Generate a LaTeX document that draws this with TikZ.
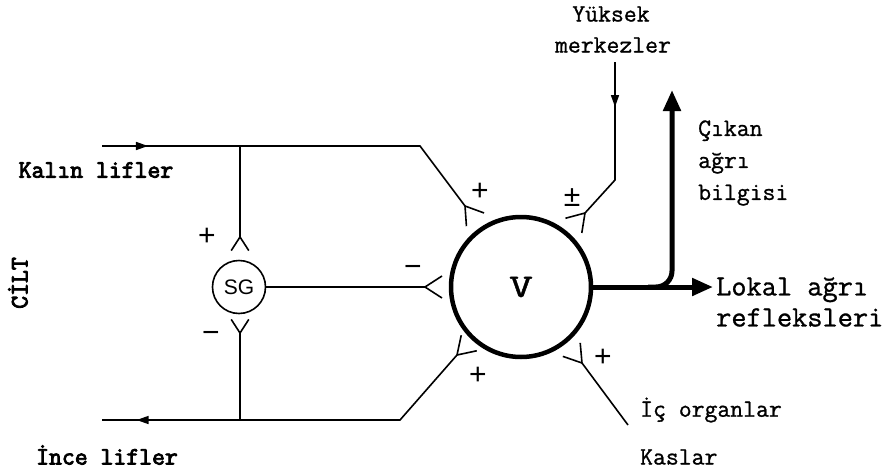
\documentclass[tikz,border=0pt]{standalone}
\usepackage{fontspec}
\newfontfamily\sgfont{Liberation Sans}
\newfontfamily\twfont{lmmono12-regular.otf}[FakeBold=1]
\newfontfamily\twbold{lmmono12-regular.otf}[FakeBold=3.5]
\usetikzlibrary{arrows.meta,positioning,decorations.markings}

\begin{document}
\begin{tikzpicture}[x=1pt,y=-1pt,
 lbl/.style={font=\twfont\fontsize{25}{32}\selectfont,inner sep=0pt},
 boldlbl/.style={font=\twbold\fontsize{25}{32}\selectfont,inner sep=0pt},
 sign/.style={font=\sgfont\fontsize{30}{30}\selectfont,inner sep=0pt},
 fibre/.style={line width=1.6pt},
 thickline/.style={line width=5pt,-{Triangle[length=21pt,width=17pt]}},
 fork/.pic={\draw[fibre] (17,-11) -- (0,0) -- (17,11);},
 midarrow/.style={postaction={decorate},decoration={markings,
   mark=at position #1 with {\arrow{Triangle[length=12pt,width=8pt]}}}}]
\useasboundingbox (0,0) rectangle (889,474);

% cells
\node[draw,circle,line width=4.5pt,minimum size=140pt,
  font=\twfont\fontsize{33}{33}\selectfont] (V) at (521,287) {\scalebox{1.4}[1]{V}};
\node[draw,circle,fibre,minimum size=53pt,
  font=\sgfont\fontsize{21}{21}\selectfont] (sg) at (239,287) {SG};

% fixed points
\coordinate (kin) at (102,146); \coordinate (kj) at (240,146);
\coordinate (kb) at (420,146); \coordinate (tl) at (465,206);
\coordinate (iin) at (102,420); \coordinate (ij) at (240,420);
\coordinate (ib) at (400,420); \coordinate (bl) at (457,355);
\coordinate (sgt) at (240,237); \coordinate (sgb) at (240,333);
\coordinate (sgr) at (425,287);
\coordinate (ytop) at (615,62); \coordinate (yb) at (615,180);
\coordinate (tr) at (585,213);
\coordinate (io) at (628,425); \coordinate (br) at (582,363);
\coordinate (split) at (648,287); \coordinate (up) at (672,90);
\coordinate (lok) at (713,287);

% fibres
\draw[fibre,midarrow=.117] (kin) -- (kb) -- (tl);
\draw[fibre,midarrow=.91] (bl) -- (ib) -- (iin);
\draw[fibre] (kj) -- (sgt);
\draw[fibre] (sgb) -- (ij);
\draw[fibre] (sg.east) -- (sgr);
\draw[fibre,midarrow=.277] (ytop) -- (yb) -- (tr);
\draw[fibre] (io) -- (br);

% synapses
\pic[rotate=-53] at (tl) {fork};
\pic at (sgr) {fork};
\pic[rotate=-90,scale=.8] at (sgt) {fork};
\pic[rotate=90,scale=.8] at (sgb) {fork};
\pic[rotate=-132] at (tr) {fork};
\pic[rotate=45] at (bl) {fork};
\pic[rotate=128] at (br) {fork};

% outputs
\draw[thickline] (V.east) -- (lok);
\draw[thickline,rounded corners=16pt] (split) -| (up);

% signs
\node[sign] (p1) at (207,237) {+};
\node[sign] (m1) at (211,337) {−};
\node[sign] (m2) at (413,271) {−};
\node[sign] (p2) at (480,192) {+};
\node[sign] (pm) at (572,198) {±};
\node[sign] (p3) at (478,376) {+};
\node[sign] (p4) at (603,358) {+};

% labels
\node[boldlbl] (kalin) at (96,170) {Kalın lifler};
\node[boldlbl] (ince) at (107,455) {İnce lifler};
\node[boldlbl,rotate=90] (cilt) at (18,283) {CİLT};
\node[lbl] (yuksek) at (611,14) {Yüksek};
\node[lbl] (merkez) at (613,45) {merkezler};
\node[lbl,anchor=west,align=left] (cikan) at (698,163) {Çıkan\\ağrı\\bilgisi};
\node[lbl,anchor=west,align=left,font=\twfont\fontsize{29.5}{31}\selectfont] (lokal) at (716,302) {Lokal ağrı\\refleksleri};
\node[lbl,anchor=west] (ic) at (640,410) {İç organlar};
\node[lbl,anchor=west] (kas) at (640,457) {Kaslar};
\end{tikzpicture}
\end{document}
